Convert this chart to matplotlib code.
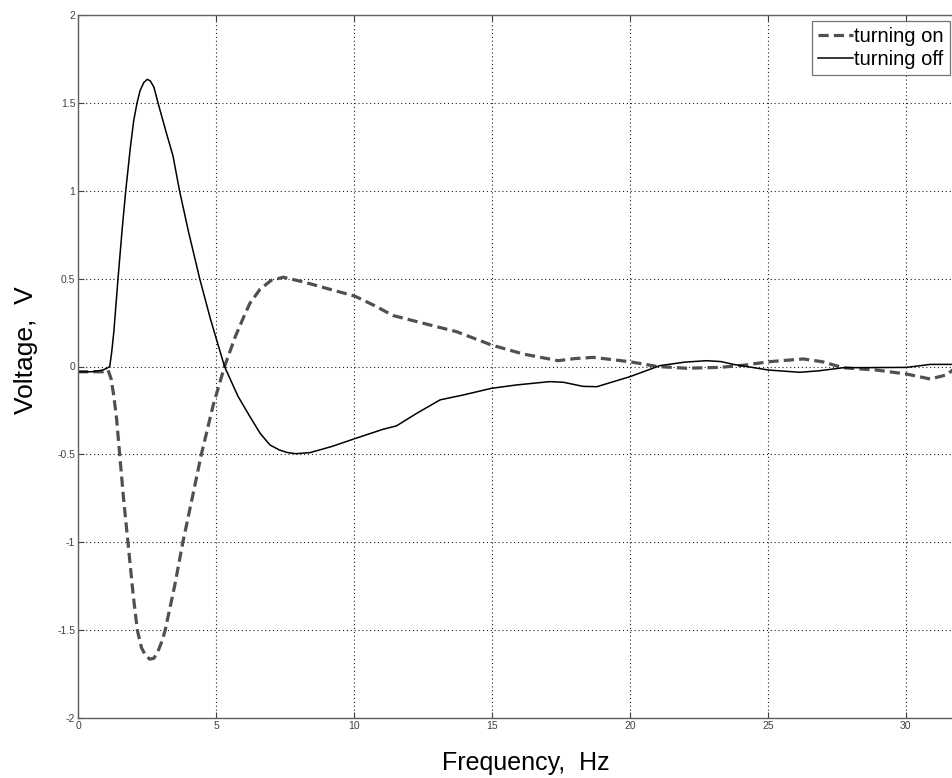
import matplotlib
matplotlib.use("Agg")
import matplotlib.pyplot as plt

# turning off (solid)
off_x = [0, 0.5, 0.9, 1.05, 1.15, 1.22, 1.3, 1.45, 1.6, 1.73, 1.9, 2.02, 2.14, 2.25, 2.38, 2.51,
         2.62, 2.75, 2.9, 3.2, 3.44, 3.68, 4.0, 4.41, 4.8, 5.31, 5.8, 6.23, 6.6, 6.96, 7.3,
         7.6, 7.9, 8.41, 9.2, 10.04, 11.06, 11.54, 12.27, 13.12, 13.96, 14.99, 15.89, 17.1,
         17.6, 18.3, 18.8, 20.0, 21.09, 22.0, 22.78, 23.3, 23.75, 25.02, 26.16, 26.88, 27.73,
         29.0, 30.03, 30.89, 32.0]
off_y = [-0.03, -0.03, -0.02, -0.01, 0.0, 0.08, 0.2, 0.5, 0.78, 1.0, 1.25, 1.4, 1.5, 1.57, 1.615, 1.634,
         1.625, 1.59, 1.5, 1.33, 1.2, 1.0, 0.77, 0.5, 0.27, 0.0, -0.17, -0.285, -0.38, -0.447, -0.475,
         -0.49, -0.496, -0.49, -0.455, -0.41, -0.357, -0.338, -0.267, -0.19, -0.162, -0.124, -0.105, -0.086,
         -0.09, -0.113, -0.115, -0.058, 0.005, 0.025, 0.033, 0.028, 0.012, -0.02, -0.033, -0.024, -0.007,
         -0.006, -0.005, 0.012, 0.012]

# turning on (dashed)
on_x = [0, 0.5, 0.9, 1.09, 1.2, 1.3, 1.4, 1.51, 1.65, 1.81, 2.0, 2.15, 2.3, 2.45, 2.6, 2.75,
        2.9, 3.05, 3.16, 3.5, 3.8, 4.15, 4.47, 4.9, 5.31, 5.7, 6.0, 6.23, 6.6, 7.0, 7.44, 8.2,
        9.0, 10.04, 10.7, 11.42, 12.51, 13.72, 14.99, 16.14, 17.4, 18.0, 18.67, 20.0, 21.0,
        22.04, 23.26, 24.22, 25.02, 26.28, 26.98, 27.73, 28.93, 30.03, 30.88, 31.47, 31.7, 32.0]
on_y = [-0.03, -0.03, -0.03, -0.02, -0.07, -0.17, -0.3, -0.5, -0.75, -1.0, -1.3, -1.5, -1.6, -1.645,
        -1.665, -1.66, -1.62, -1.56, -1.5, -1.25, -1.0, -0.74, -0.5, -0.22, 0.0, 0.17, 0.28, 0.36, 0.44,
        0.49, 0.508, 0.48, 0.445, 0.40, 0.35, 0.29, 0.246, 0.198, 0.122, 0.071, 0.033, 0.045, 0.052,
        0.027, 0.0, -0.01, -0.005, 0.009, 0.027, 0.043, 0.027, -0.007, -0.02, -0.043, -0.071, -0.048,
        -0.02, 0.005]

xticks = [0, 5, 10, 15, 20, 25, 30]
yticks = [-2, -1.5, -1, -0.5, 0, 0.5, 1, 1.5, 2]
ytick_labels = ["-2", "-1.5", "-1", "-0.5", "0", "0.5", "1", "1.5", "2"]

plt.rcParams['font.family'] = ['Liberation Sans', 'DejaVu Sans']

W, H = 952, 778
fig = plt.figure(figsize=(W / 100, H / 100), dpi=100)
left, right, top, bottom = 78, 961, 15, 718
ax = fig.add_axes([left / W, 1 - bottom / H, (right - left) / W, (bottom - top) / H])

ax.plot(on_x, on_y, color='#505050', lw=2.3, linestyle=(0, (3.2, 1.6)), label='turning on')
ax.plot(off_x, off_y, color='black', lw=1.1, label='turning off')

ax.set_xlim(0, 32)
ax.set_ylim(-2, 2)
ax.set_xticks(xticks)
ax.set_xticklabels([str(t) for t in xticks])
ax.set_yticks(yticks)
ax.set_yticklabels(ytick_labels)
ax.grid(True, color='#202020', linestyle=(0, (1, 2.5)), linewidth=0.8)
ax.tick_params(direction='in', length=4, width=0.8, colors='#404040', labelsize=7.5,
               top=True, right=True, pad=2)
for s in ax.spines.values():
    s.set_color('#606060')
    s.set_linewidth(1.0)

ax.set_xlabel('Frequency,  Hz', fontsize=18)
ax.set_ylabel('Voltage,  V', fontsize=19)
ax.xaxis.set_label_coords((526 - left) / (right - left), (bottom - 751) / (bottom - top))
ax.yaxis.set_label_coords((38 - left) / (right - left), (bottom - 350) / (bottom - top))

leg = ax.legend(loc='upper left', bbox_to_anchor=(811.7 / W, 1 - 21 / H),
                bbox_transform=fig.transFigure, fontsize=14.5, frameon=True, fancybox=False,
                borderpad=0.3, labelspacing=0.2, handlelength=1.75, handletextpad=0.05,
                borderaxespad=0)
leg.get_frame().set_edgecolor('#505050')
leg.get_frame().set_linewidth(0.9)

fig.savefig('out.png', dpi=100)
